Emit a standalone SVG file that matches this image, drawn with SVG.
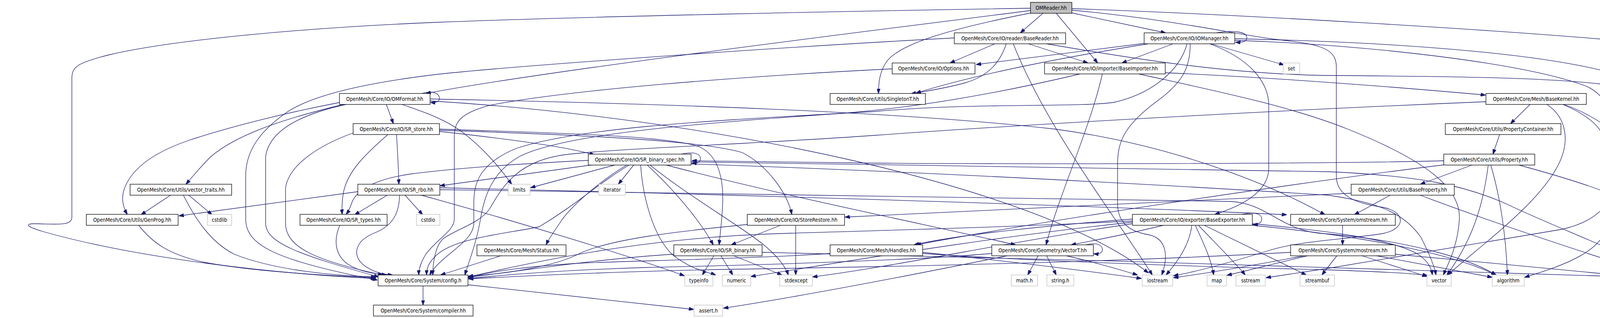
<svg xmlns="http://www.w3.org/2000/svg" width="4475" height="813" viewBox="0 0 4475 813">
<style>
rect{fill:#fff;stroke:#000;stroke-width:1.3}
.sys rect{stroke:#bfbfbf}
.root rect{fill:#bfbfbf}
text{font-family:"DejaVu Sans Condensed","DejaVu Sans",sans-serif;font-size:13.33px;text-anchor:middle;fill:#000}
#edges path{fill:none;stroke:#191970;stroke-width:1.3;marker-end:url(#ah)}
</style>
<defs>
<marker id="ah" markerUnits="userSpaceOnUse" markerWidth="13" markerHeight="9" refX="12.5" refY="4.5" orient="auto">
<path d="M0,0 L13,4.5 L0,9 z" fill="#191970" stroke="#191970" stroke-width="1"/>
</marker>
</defs>
<rect x="0" y="0" width="4475" height="813" style="fill:#fff;stroke:none"/>
<g id="edges">
<path d="M2638,21 C2200,28 1500,42 1120,57 C800,70 450,100 280,140 C200,160 184,170 184,200 L184,555 C184,578 150,573 90,572 C60,572 70,580 110,592 C350,660 700,700 962,712"/>
<path d="M2638,27 C2300,70 1400,180 1090,239"/>
<path d="M2640,33 C2450,70 2300,110 2268,160 C2252,185 2249,210 2249,239"/>
<path d="M2670,34 L2612,84"/>
<path d="M2704,34 L2810,161"/>
<path d="M2744,33 L2984,84"/>
<path d="M2744,22 C3200,38 3800,75 4100,100 C4350,122 4472,150 4472,190 L4472,560 C4472,620 4420,665 4302,712"/>
<path d="M2744,26 C3000,50 3150,85 3260,100 C3370,112 3421,120 3421,170 L3421,450 C3421,500 3470,520 3540,530 C3600,542 3600,585 3540,597 C3450,612 3330,615 3250,640 C3120,680 3050,697 3004,705"/>
<path d="M2443,97 C2000,120 1300,170 1120,190 C950,210 800,240 730,290 C660,340 629,390 629,450 L629,560 C629,625 700,665 966,716"/>
<path d="M2547,112 L2432,161"/>
<path d="M2576,112 C2560,160 2530,195 2470,212 C2420,226 2370,233 2332,240"/>
<path d="M2594,112 C2680,330 2860,560 2950,703"/>
<path d="M2633,112 L2785,161"/>
<path d="M2679,112 C2900,150 3150,190 3400,193 C3700,195 3950,198 4100,215 C4300,238 4424,262 4424,330 L4424,600 C4424,650 4330,680 4292,703"/>
<path d="M2929,111 L2499,165"/>
<path d="M2940,112 C2700,150 2500,190 2345,238"/>
<path d="M3003,112 L2872,161"/>
<path d="M3039,112 C3020,180 2950,240 2850,262 C2750,275 2500,262 2240,285 C1900,305 1500,320 1320,380 C1225,420 1213,470 1213,520 L1213,570 C1213,620 1130,650 1100,703"/>
<path d="M3047,112 C3047,170 3030,210 2960,260 C2880,320 2861,360 2861,420 L2861,520 C2861,560 2880,590 2940,600 C2990,610 2990,660 2974,703"/>
<path d="M3097,112 C3200,150 3248,210 3248,270 L3248,430 C3248,480 3200,520 3110,548"/>
<path d="M3100,112 L3287,166"/>
<path d="M3114,84 C3160,76 3192,82 3192,96 C3192,106 3182,109 3163,108"/>
<path d="M3161,99 C3600,108 4000,140 4170,200 C4270,240 4305,330 4308,420 L4305,560 C4303,620 4292,670 4284,703"/>
<path d="M3161,103 C3500,115 3900,160 4060,220 C4130,250 4139,330 4139,420 C4139,520 4090,565 4000,586 C3800,620 3550,660 3400,686 L3241,710"/>
<path d="M2284,176 C1900,195 1450,230 1250,270 C1180,290 1163,310 1163,350 L1163,560 C1163,590 1120,610 1090,650 C1075,675 1072,690 1072,703"/>
<path d="M2765,189 C2550,240 2350,275 2150,290 C1800,315 1450,340 1330,400 C1260,440 1240,500 1230,560 C1220,620 1200,670 1190,703"/>
<path d="M2822,189 C2790,330 2710,500 2678,626"/>
<path d="M2983,186 C3300,200 3600,225 3803,243"/>
<path d="M2915,189 C3100,230 3300,270 3450,330 C3650,410 3740,480 3736,560 C3732,630 3705,680 3695,703"/>
<path d="M869,262 C750,285 600,320 480,360 C380,395 330,440 316,490 C310,515 318,535 326,548"/>
<path d="M879,267 C700,310 600,350 540,400 C510,430 490,455 476,471"/>
<path d="M886,267 C780,290 690,330 680,400 L680,570 C680,620 760,650 970,708"/>
<path d="M989,267 L1007,316"/>
<path d="M1029,267 C1080,285 1130,300 1180,335 C1240,380 1280,430 1310,471"/>
<path d="M1080,239 C1110,230 1125,240 1125,252 C1125,260 1115,263 1102,262"/>
<path d="M1101,253 C1700,265 2300,285 2700,330 C3000,370 3250,470 3392,549"/>
<path d="M1101,258 C1800,300 2650,470 2940,698"/>
<path d="M904,340 C820,370 740,420 731,480 L731,570 C731,630 800,665 980,703"/>
<path d="M993,344 C940,390 885,440 878,500 C875,520 875,535 876,548"/>
<path d="M1015,344 C1018,390 1020,430 1021,471"/>
<path d="M1125,336 C1300,355 1450,375 1522,396"/>
<path d="M1125,330 C1400,340 1700,345 1790,375 C1845,400 1852,470 1850,520 C1848,570 1843,600 1841,626"/>
<path d="M1125,333 C1500,345 1800,360 1900,390 C1960,420 2015,490 2027,548"/>
<path d="M1745,394 C1780,386 1793,395 1793,405 C1793,415 1785,418 1771,417"/>
<path d="M1506,410 C1350,418 1180,428 1050,445 C950,460 910,490 900,520 C895,535 890,543 886,548"/>
<path d="M1520,421 L1126,475"/>
<path d="M1577,421 L1358,480"/>
<path d="M1623,421 L1583,471"/>
<path d="M1606,421 C1540,460 1470,520 1440,560 C1420,590 1405,610 1398,626"/>
<path d="M1612,421 C1530,470 1480,520 1380,580 C1280,600 1150,610 1110,660 C1095,675 1092,690 1092,703"/>
<path d="M1640,421 C1645,500 1670,600 1720,650 C1770,690 1810,695 1832,703"/>
<path d="M1656,421 C1720,480 1790,560 1826,626"/>
<path d="M1663,421 C1760,500 1900,580 1960,630 C1995,660 2012,685 2018,703"/>
<path d="M1702,421 C2000,500 2400,580 2600,626"/>
<path d="M1769,414 C2300,422 3000,432 3400,439 C3630,449 3750,473 3860,523 C4000,590 4200,660 4245,706"/>
<path d="M1769,419 C2400,440 3100,480 3400,499 C3515,516 3591,539 3637,606 C3660,650 3672,680 3676,703"/>
<path d="M3696,411 C3400,419 2600,420 2240,417 C2000,414 1850,411 1771,411"/>
<path d="M3700,421 C3300,470 2700,560 2345,626"/>
<path d="M3771,421 L3636,471"/>
<path d="M3810,421 C3800,500 3780,600 3704,703"/>
<path d="M3816,421 C3840,500 3855,600 3859,703"/>
<path d="M3885,421 C4003,453 4146,495 4231,547 C4267,600 4274,650 4274,703"/>
<path d="M3839,344 L3822,394"/>
<path d="M3917,267 L3867,316"/>
<path d="M3960,267 C4010,300 4020,360 3990,420 C3940,520 3800,620 3706,703"/>
<path d="M4001,267 C4080,300 4117,340 4117,400 L4117,560 C4117,640 4000,680 3903,709"/>
<path d="M4003,267 C4100,300 4200,380 4240,460 C4275,540 4280,630 4281,703"/>
<path d="M3804,260 C3200,285 2600,320 2240,346 C1900,370 1600,378 1450,395 C1330,410 1290,470 1254,533 C1230,570 1170,585 1135,610 C1112,630 1108,680 1108,703"/>
<path d="M438,498 L361,549"/>
<path d="M482,498 L543,549"/>
<path d="M469,498 C500,560 540,620 600,650 C700,690 850,705 962,708"/>
<path d="M355,576 C390,620 430,650 520,670 C650,695 850,705 962,710"/>
<path d="M916,490 L458,552"/>
<path d="M993,498 L908,549"/>
<path d="M1036,498 L1082,549"/>
<path d="M1023,498 C1022,540 1010,575 960,595 C910,615 900,650 930,677 C960,700 990,702 1005,703"/>
<path d="M1075,498 C1300,560 1600,650 1752,705"/>
<path d="M1126,480 C2000,500 2900,530 3294,549"/>
<path d="M1126,485 C2000,495 2900,505 3150,515 C3250,520 3280,595 3400,598 C3600,615 3760,660 3830,703"/>
<path d="M870,576 C855,610 855,650 890,675 C920,695 960,700 990,703"/>
<path d="M1913,574 C1750,590 1560,610 1480,650 C1420,680 1300,700 1199,706"/>
<path d="M1998,576 L1872,626"/>
<path d="M2037,576 L2037,703"/>
<path d="M1285,653 L1128,703"/>
<path d="M1725,650 C1550,660 1350,690 1199,709"/>
<path d="M1828,653 L1798,703"/>
<path d="M1845,653 L1876,703"/>
<path d="M1876,653 L2002,703"/>
<path d="M1951,645 C2700,660 3600,690 4243,710"/>
<path d="M2125,648 C1950,660 1700,665 1500,672 C1350,680 1250,695 1199,710"/>
<path d="M2362,645 C2600,670 2800,695 2922,712"/>
<path d="M2362,648 C2600,665 3000,680 3400,690 C3550,695 3630,700 3655,705"/>
<path d="M2780,626 C2810,618 2822,628 2822,638 C2822,647 2814,650 2800,649"/>
<path d="M2658,653 L2631,703"/>
<path d="M2679,653 L2704,703"/>
<path d="M2726,653 C2800,670 2870,690 2912,703"/>
<path d="M2539,648 C2350,665 2000,676 1650,684 C1450,690 1300,702 1199,712"/>
<path d="M2583,653 C2400,690 2100,750 1852,788"/>
<path d="M3180,548 C3220,540 3230,550 3230,560 C3230,570 3222,574 3207,574"/>
<path d="M2978,576 C2880,600 2800,615 2742,626"/>
<path d="M3051,576 C3045,630 3010,675 2985,703"/>
<path d="M3060,576 C3080,620 3100,660 3107,703"/>
<path d="M3068,576 C3110,620 3160,670 3188,703"/>
<path d="M3083,576 L3344,703"/>
<path d="M2899,565 C2600,580 2300,588 2000,597 C1700,606 1450,650 1199,708"/>
<path d="M2899,560 C2700,575 2450,600 2340,626"/>
<path d="M2899,568 C2500,610 2100,680 1922,707"/>
<path d="M2899,572 C2600,615 2300,680 2080,708"/>
<path d="M3206,572 C3400,590 3560,610 3630,650 C3660,670 3665,690 3667,703"/>
<path d="M3206,576 C3450,600 3700,640 3830,703"/>
<path d="M3437,576 L3437,626"/>
<path d="M3423,653 L3384,703"/>
<path d="M3484,653 L3653,707"/>
<path d="M3519,653 L3820,709"/>
<path d="M3572,650 C3800,670 4100,700 4243,713"/>
<path d="M3351,653 L3141,704"/>
<path d="M3343,653 C3200,680 3080,700 3004,710"/>
<path d="M3304,645 C2900,668 2400,680 1900,688 C1600,693 1350,705 1199,713"/>
<path d="M3459,494 C3000,515 2500,540 2163,555"/>
<path d="M3561,498 L3467,549"/>
<path d="M3633,498 C3850,580 4100,660 4246,706"/>
<path d="M1083,731 L1083,780"/>
<path d="M1198,728 L1776,791"/>
</g>
<g id="n0" class="root"><rect x="2638" y="6" width="106" height="28"/><text x="2691" y="25">OMReader.hh</text></g>
<g id="n1"><rect x="2443" y="84" width="285" height="28"/><text x="2585.5" y="103">OpenMesh/Core/IO/reader/BaseReader.hh</text></g>
<g id="n2"><rect x="2929" y="84" width="232" height="28"/><text x="3045" y="103">OpenMesh/Core/IO/IOManager.hh</text></g>
<g id="n3"><rect x="2284" y="161" width="212" height="28"/><text x="2390" y="180">OpenMesh/Core/IO/Options.hh</text></g>
<g id="n4"><rect x="2674" y="161" width="309" height="28"/><text x="2828.5" y="180">OpenMesh/Core/IO/importer/BaseImporter.hh</text></g>
<g id="n5" class="sys"><rect x="3285" y="161" width="42" height="28"/><text x="3306" y="180">set</text></g>
<g id="n6"><rect x="869" y="239" width="232" height="28"/><text x="985" y="258">OpenMesh/Core/IO/OMFormat.hh</text></g>
<g id="n7"><rect x="2125" y="239" width="244" height="28"/><text x="2247" y="258">OpenMesh/Core/Utils/SingletonT.hh</text></g>
<g id="n8"><rect x="3804" y="239" width="257" height="28"/><text x="3932.5" y="258">OpenMesh/Core/Mesh/BaseKernel.hh</text></g>
<g id="n9"><rect x="904" y="316" width="221" height="28"/><text x="1014.5" y="335">OpenMesh/Core/IO/SR_store.hh</text></g>
<g id="n10"><rect x="3700" y="316" width="296" height="28"/><text x="3848" y="335">OpenMesh/Core/Utils/PropertyContainer.hh</text></g>
<g id="n11"><rect x="1506" y="394" width="263" height="28"/><text x="1637.5" y="413">OpenMesh/Core/IO/SR_binary_spec.hh</text></g>
<g id="n12"><rect x="3696" y="394" width="233" height="28"/><text x="3812.5" y="413">OpenMesh/Core/Utils/Property.hh</text></g>
<g id="n13"><rect x="333" y="471" width="260" height="28"/><text x="463" y="490">OpenMesh/Core/Utils/vector_traits.hh</text></g>
<g id="n14"><rect x="916" y="471" width="210" height="28"/><text x="1021" y="490">OpenMesh/Core/IO/SR_rbo.hh</text></g>
<g id="n15" class="sys"><rect x="1301" y="471" width="56" height="28"/><text x="1329" y="490">limits</text></g>
<g id="n16" class="sys"><rect x="1533" y="471" width="68" height="28"/><text x="1567" y="490">iterator</text></g>
<g id="n17"><rect x="3459" y="471" width="264" height="28"/><text x="3591" y="490">OpenMesh/Core/Utils/BaseProperty.hh</text></g>
<g id="n18"><rect x="221" y="548" width="235" height="28"/><text x="338.5" y="567">OpenMesh/Core/Utils/GenProg.hh</text></g>
<g id="n19" class="sys"><rect x="531" y="548" width="62" height="28"/><text x="562" y="567">cstdlib</text></g>
<g id="n20"><rect x="768" y="548" width="223" height="28"/><text x="879.5" y="567">OpenMesh/Core/IO/SR_types.hh</text></g>
<g id="n21" class="sys"><rect x="1066" y="548" width="60" height="28"/><text x="1096" y="567">cstdio</text></g>
<g id="n22"><rect x="1913" y="548" width="249" height="28"/><text x="2037.5" y="567">OpenMesh/Core/IO/StoreRestore.hh</text></g>
<g id="n23"><rect x="2899" y="548" width="307" height="28"/><text x="3052.5" y="567">OpenMesh/Core/IO/exporter/BaseExporter.hh</text></g>
<g id="n24"><rect x="3304" y="548" width="268" height="28"/><text x="3438" y="567">OpenMesh/Core/System/omstream.hh</text></g>
<g id="n25"><rect x="1221" y="626" width="228" height="28"/><text x="1335" y="645">OpenMesh/Core/Mesh/Status.hh</text></g>
<g id="n26"><rect x="1725" y="626" width="226" height="28"/><text x="1838" y="645">OpenMesh/Core/IO/SR_binary.hh</text></g>
<g id="n27"><rect x="2125" y="626" width="237" height="28"/><text x="2243.5" y="645">OpenMesh/Core/Mesh/Handles.hh</text></g>
<g id="n28"><rect x="2539" y="626" width="260" height="28"/><text x="2669" y="645">OpenMesh/Core/Geometry/VectorT.hh</text></g>
<g id="n29"><rect x="3304" y="626" width="268" height="28"/><text x="3438" y="645">OpenMesh/Core/System/mostream.hh</text></g>
<g id="n30"><rect x="968" y="703" width="230" height="28"/><text x="1083" y="722">OpenMesh/Core/System/config.h</text></g>
<g id="n31" class="sys"><rect x="1753" y="703" width="72" height="28"/><text x="1789" y="722">typeinfo</text></g>
<g id="n32" class="sys"><rect x="1849" y="703" width="73" height="28"/><text x="1885.5" y="722">numeric</text></g>
<g id="n33" class="sys"><rect x="1996" y="703" width="84" height="28"/><text x="2038" y="722">stdexcept</text></g>
<g id="n34" class="sys"><rect x="2589" y="703" width="67" height="28"/><text x="2622.5" y="722">math.h</text></g>
<g id="n35" class="sys"><rect x="2680" y="703" width="69" height="28"/><text x="2714.5" y="722">string.h</text></g>
<g id="n36" class="sys"><rect x="2924" y="703" width="78" height="28"/><text x="2963" y="722">iostream</text></g>
<g id="n37" class="sys"><rect x="3090" y="703" width="50" height="28"/><text x="3115" y="722">map</text></g>
<g id="n38" class="sys"><rect x="3164" y="703" width="75" height="28"/><text x="3201.5" y="722">sstream</text></g>
<g id="n39" class="sys"><rect x="3328" y="703" width="88" height="28"/><text x="3372" y="722">streambuf</text></g>
<g id="n40" class="sys"><rect x="3653" y="703" width="62" height="28"/><text x="3684" y="722">vector</text></g>
<g id="n41" class="sys"><rect x="3820" y="703" width="82" height="28"/><text x="3861" y="722">algorithm</text></g>
<g id="n42" class="sys"><rect x="4243" y="703" width="57" height="28"/><text x="4271.5" y="722">string</text></g>
<g id="n43"><rect x="956" y="780" width="255" height="28"/><text x="1083.5" y="799">OpenMesh/Core/System/compiler.hh</text></g>
<g id="n44" class="sys"><rect x="1777" y="780" width="73" height="28"/><text x="1813.5" y="799">assert.h</text></g>
</svg>
